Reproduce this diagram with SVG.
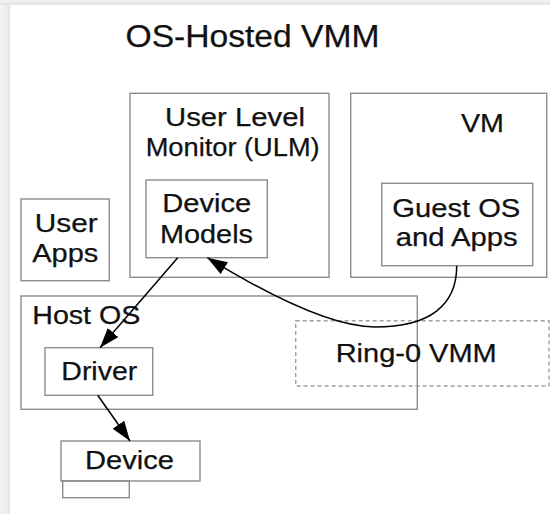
<svg xmlns="http://www.w3.org/2000/svg" width="550" height="514" viewBox="0 0 550 514">
  <defs>
    <linearGradient id="edgeLeft" x1="0" y1="0" x2="1" y2="0">
      <stop offset="0" stop-color="#f4f4f4"/>
      <stop offset="0.8" stop-color="#ececec"/>
      <stop offset="1" stop-color="#e2e2e2"/>
    </linearGradient>
    <linearGradient id="edgeTop" x1="0" y1="0" x2="0" y2="1">
      <stop offset="0" stop-color="#f2f2f2"/>
      <stop offset="1" stop-color="#e4e4e4"/>
    </linearGradient>
    <marker id="arrow" viewBox="0 0 20 14" refX="20" refY="7" markerWidth="20" markerHeight="14" markerUnits="userSpaceOnUse" orient="auto">
      <path d="M0,0 L20,7 L0,14 Z" fill="#000"/>
    </marker>
    <style>
      .box { fill: none; stroke: #8c8c8c; stroke-width: 1.4; }
      .dash { fill: none; stroke: #a0a0a0; stroke-width: 1.4; stroke-dasharray: 4 3; }
      .lbl { font-family: "Liberation Sans", Arial, sans-serif; font-size: 25.5px; fill: #111; stroke: #111; stroke-width: 0.25; }
      .wire { fill: none; stroke: #000; stroke-width: 1.5; }
    </style>
  </defs>

  <!-- page background with a soft grey margin on the top and left -->
  <rect x="0" y="0" width="550" height="514" fill="#f2f2f2"/>
  <rect x="0" y="0" width="10" height="514" fill="url(#edgeLeft)"/>
  <rect x="0" y="0" width="550" height="5" fill="url(#edgeTop)"/>
  <rect x="10" y="5" width="540" height="509" fill="#ffffff"/>

  <text id="title" class="lbl" x="125.5" y="47.3" style="font-size:32px" textLength="254" lengthAdjust="spacingAndGlyphs">OS-Hosted VMM</text>

  <g id="ulm">
    <rect class="box" x="130" y="93.3" width="199" height="184"/>
    <text class="lbl" x="165" y="125.7" textLength="140" lengthAdjust="spacingAndGlyphs">User Level</text>
    <text class="lbl" x="145.7" y="155.7" textLength="174" lengthAdjust="spacingAndGlyphs">Monitor (ULM)</text>
  </g>

  <g id="device-models">
    <rect class="box" x="146" y="180" width="121.3" height="77.7"/>
    <text class="lbl" x="162.3" y="211.7" textLength="89" lengthAdjust="spacingAndGlyphs">Device</text>
    <text class="lbl" x="160" y="242.7" textLength="93" lengthAdjust="spacingAndGlyphs">Models</text>
  </g>

  <g id="vm">
    <rect class="box" x="350.7" y="93.3" width="196" height="184"/>
    <text class="lbl" x="461" y="132.3" textLength="43" lengthAdjust="spacingAndGlyphs">VM</text>
  </g>

  <g id="guest-os">
    <rect class="box" x="381.7" y="183.3" width="151" height="82.4"/>
    <text class="lbl" x="392.3" y="216.7" textLength="128" lengthAdjust="spacingAndGlyphs">Guest OS</text>
    <text class="lbl" x="395.7" y="245.7" textLength="122" lengthAdjust="spacingAndGlyphs">and Apps</text>
  </g>

  <g id="user-apps">
    <rect class="box" x="21" y="199" width="88.3" height="81.7"/>
    <text class="lbl" x="34.7" y="231.7" textLength="63" lengthAdjust="spacingAndGlyphs">User</text>
    <text class="lbl" x="32.3" y="261.7" textLength="66" lengthAdjust="spacingAndGlyphs">Apps</text>
  </g>

  <g id="host-os">
    <rect class="box" x="21" y="296" width="396.3" height="113.3"/>
    <text class="lbl" x="32.3" y="324.3" textLength="108" lengthAdjust="spacingAndGlyphs">Host OS</text>
  </g>

  <g id="driver">
    <rect class="box" x="45" y="347.7" width="107.7" height="47.6"/>
    <text class="lbl" x="61.3" y="380" style="font-size:26.5px" textLength="76" lengthAdjust="spacingAndGlyphs">Driver</text>
  </g>

  <g id="ring0-vmm">
    <rect class="dash" x="295.7" y="320.7" width="253.3" height="65.3"/>
    <text class="lbl" x="335.7" y="362.3" style="font-size:26.5px" textLength="161" lengthAdjust="spacingAndGlyphs">Ring-0 VMM</text>
  </g>

  <g id="device">
    <rect class="box" x="61" y="441" width="139" height="40"/>
    <rect class="box" x="62.7" y="481" width="66.6" height="16.7"/>
    <text class="lbl" x="85" y="469.3" style="font-size:26.5px" textLength="89" lengthAdjust="spacingAndGlyphs">Device</text>
  </g>

  <g id="connectors">
    <path class="wire" d="M177.7,257.7 L100,347.7" marker-end="url(#arrow)"/>
    <path class="wire" d="M97.7,395.3 L130,441" marker-end="url(#arrow)"/>
    <path class="wire" d="M456.7,265.7 C457,305 430,327 375,327 C330,327 260,290 207.3,257.7" marker-end="url(#arrow)"/>
  </g>
</svg>
